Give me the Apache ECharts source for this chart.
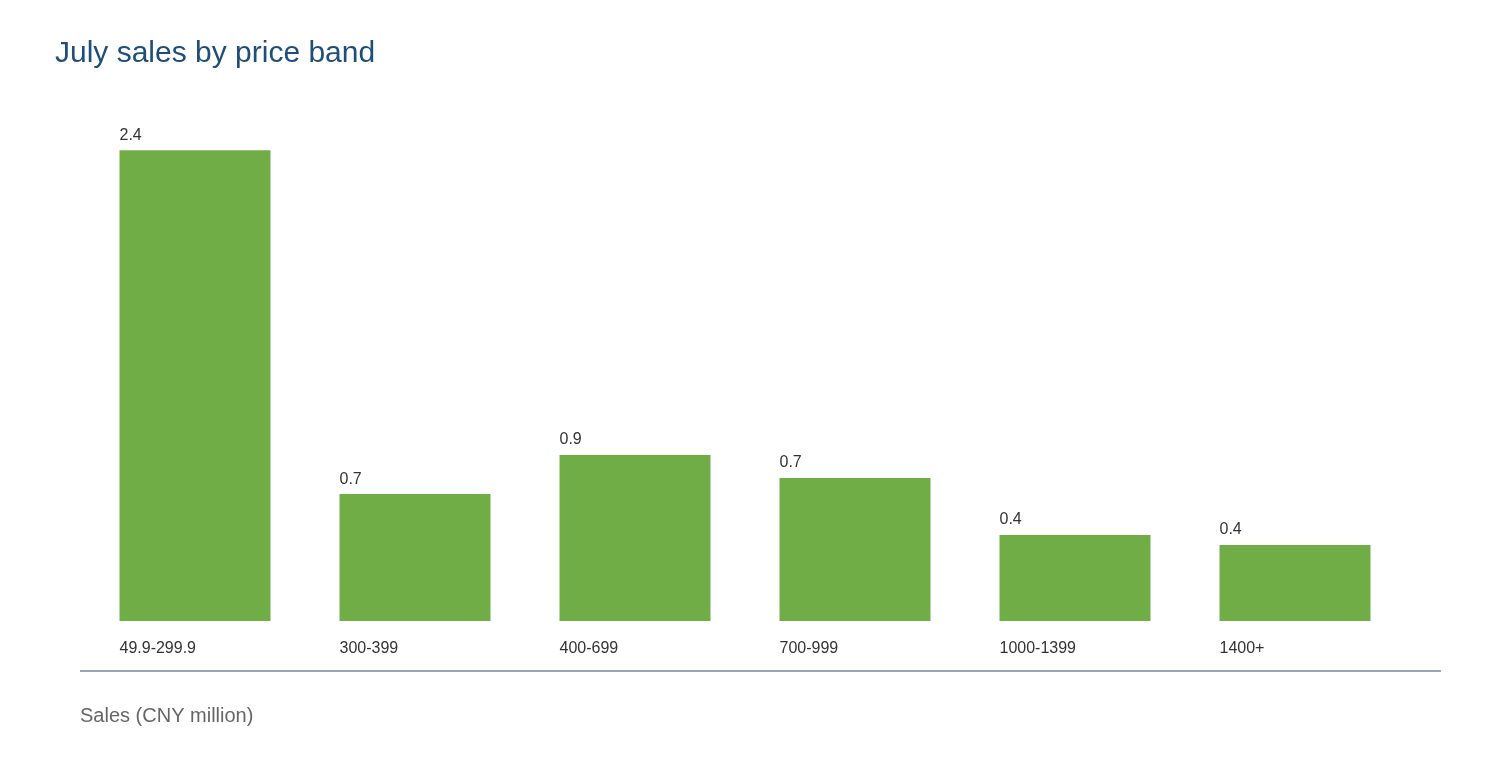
<!DOCTYPE html>
<html>
<head>
<meta charset="utf-8">
<script src="https://cdn.jsdelivr.net/npm/echarts@6/dist/echarts.min.js"></script>
<style>
html,body{margin:0;padding:0;background:#fff;}
#chart{width:1500px;height:760px;}
</style>
</head>
<body>
<div id="chart"></div>
<script>
var categories = ['49.9-299.9', '300-399', '400-699', '700-999', '1000-1399', '1400+'];
var salesValues = [2.43, 0.655, 0.857, 0.738, 0.444, 0.392];
var titleText = 'July sales by price band';
var unitText = 'Sales (CNY million)';

var FONT = '"Liberation Sans", Arial, Helvetica, sans-serif';
var chart = echarts.init(document.getElementById('chart'));
chart.setOption({
  backgroundColor: '#ffffff',
  animation: false,
  title: {
    text: titleText,
    left: 50,
    top: 34,
    textStyle: { fontFamily: FONT, fontSize: 30, fontWeight: 'normal', color: '#1F4E79' }
  },
  grid: { left: 85, right: 95, top: 98, bottom: 139 },
  xAxis: {
    type: 'category',
    data: categories,
    axisLine: { show: false },
    axisTick: { show: false },
    axisLabel: { show: false }
  },
  yAxis: {
    type: 'value',
    min: 0,
    max: 2.7,
    show: false,
    splitLine: { show: false }
  },
  series: [
    {
      type: 'bar',
      data: salesValues,
      barWidth: 151,
      itemStyle: { color: '#70AD47' },
      label: {
        show: true,
        position: [0, -7],
        align: 'left',
        verticalAlign: 'bottom',
        fontFamily: FONT,
        fontSize: 16,
        color: '#333333',
        formatter: function (p) { return p.value.toFixed(1); }
      }
    },
    {
      type: 'bar',
      data: salesValues,
      barWidth: 151,
      barGap: '-100%',
      silent: true,
      itemStyle: { color: 'rgba(0,0,0,0)' },
      label: {
        show: true,
        position: ['0%', '100%'],
        offset: [0, 28],
        align: 'left',
        verticalAlign: 'middle',
        fontFamily: FONT,
        fontSize: 16,
        color: '#333333',
        formatter: '{b}'
      }
    }
  ],
  graphic: [
    {
      type: 'line',
      shape: { x1: 80, y1: 671, x2: 1441, y2: 671 },
      style: { stroke: '#9AA6B2', lineWidth: 2 }
    },
    {
      type: 'text',
      left: 80,
      top: 706,
      style: { text: unitText, fontFamily: FONT, fontSize: 20, fill: '#666666' }
    }
  ]
});
</script>
</body>
</html>
